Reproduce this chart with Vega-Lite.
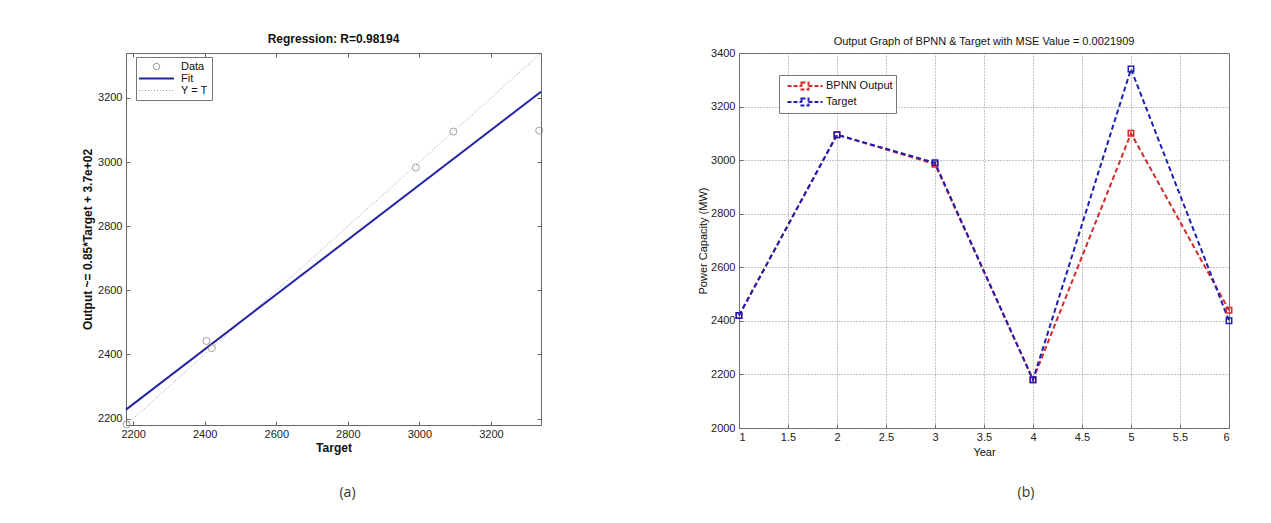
{
  "$schema": "https://vega.github.io/schema/vega-lite/v6.json",
  "background": "white",
  "padding": {"left": 81, "top": 32, "right": 5, "bottom": 5},
  "bounds": "flush",
  "columns": 2,
  "spacing": {"row": 55, "column": 198},
  "resolve": {"scale": {"color": "independent"}, "legend": {"color": "independent"}},
  "datasets": {
    "identity": [
      {"target": 2180, "output": 2180, "series": "Y = T"},
      {"target": 3340, "output": 3340, "series": "Y = T"}
    ],
    "fit": [
      {"target": 2180, "output": 2228, "series": "Fit"},
      {"target": 3340, "output": 3219, "series": "Fit"}
    ],
    "points": [
      {"target": 2420, "output": 2420, "series": "Data"},
      {"target": 3095, "output": 3095, "series": "Data"},
      {"target": 2990, "output": 2983, "series": "Data"},
      {"target": 2182, "output": 2182, "series": "Data"},
      {"target": 3335, "output": 3098, "series": "Data"},
      {"target": 2405, "output": 2442, "series": "Data"}
    ],
    "capacity": [
      {"year": 1, "value": 2420, "series": "BPNN Output"},
      {"year": 2, "value": 3095, "series": "BPNN Output"},
      {"year": 3, "value": 2985, "series": "BPNN Output"},
      {"year": 4, "value": 2180, "series": "BPNN Output"},
      {"year": 5, "value": 3100, "series": "BPNN Output"},
      {"year": 6, "value": 2440, "series": "BPNN Output"},
      {"year": 1, "value": 2420, "series": "Target"},
      {"year": 2, "value": 3095, "series": "Target"},
      {"year": 3, "value": 2990, "series": "Target"},
      {"year": 4, "value": 2180, "series": "Target"},
      {"year": 5, "value": 3340, "series": "Target"},
      {"year": 6, "value": 2400, "series": "Target"}
    ],
    "captionA": [{"caption": "(a)"}],
    "captionB": [{"caption": "(b)"}]
  },
  "concat": [
    {
      "width": 415,
      "height": 372,
      "title": {"text": "Regression: R=0.98194", "fontSize": 12, "fontWeight": "bold", "offset": 5},
      "resolve": {"axis": {"x": "independent", "y": "independent"}},
      "layer": [
        {
          "data": {"name": "identity"},
          "mark": {"type": "line", "strokeDash": [1, 2], "strokeWidth": 1},
          "encoding": {
            "x": {"field": "target", "type": "quantitative",
              "scale": {"domain": [2180, 3340], "nice": false, "zero": false},
              "axis": {"orient": "bottom", "values": [2200, 2400, 2600, 2800, 3000, 3200], "format": "d", "title": "Target", "titleFontWeight": "bold", "titleFontSize": 12, "tickSize": -4, "labelPadding": 7, "titlePadding": 3, "domain": false}},
            "y": {"field": "output", "type": "quantitative",
              "scale": {"domain": [2180, 3340], "nice": false, "zero": false},
              "axis": {"orient": "left", "values": [2200, 2400, 2600, 2800, 3000, 3200], "format": "d", "title": "Output ~= 0.85*Target + 3.7e+02", "titleFontWeight": "bold", "titleFontSize": 12, "tickSize": -4, "labelPadding": 8, "titlePadding": 3, "domain": false}},
            "color": {"field": "series", "type": "nominal",
              "scale": {"domain": ["Data", "Fit", "Y = T"], "range": ["#7d7d7d", "#2424a8", "#9a9a9a"]},
              "legend": {
                "orient": "none", "legendX": 10, "legendY": 4, "title": null,
                "fillColor": "white", "strokeColor": "#777", "padding": 4,
                "labelFontSize": 11, "labelColor": "#111",
                "symbolType": "M-2.5,0L2.5,0", "symbolSize": 196, "symbolOffset": 11,
                "labelOffset": 19, "rowPadding": 0,
                "encode": {"symbols": {"update": {
                  "shape": {"signal": "datum.value === 'Data' ? 'circle' : 'M-2.5,0L2.5,0'"},
                  "size": {"signal": "datum.value === 'Data' ? 40 : 196"},
                  "fill": {"value": "transparent"},
                  "stroke": {"signal": "datum.value === 'Fit' ? '#2424a8' : '#8a8a8a'"},
                  "strokeWidth": {"signal": "datum.value === 'Fit' ? 2 : 1"},
                  "strokeDash": {"signal": "datum.value === 'Y = T' ? [1, 2] : [1, 0]"}
                }}}
              }}
          }
        },
        {
          "data": {"name": "fit"},
          "mark": {"type": "line", "strokeWidth": 2},
          "encoding": {
            "x": {"field": "target", "type": "quantitative",
              "scale": {"domain": [2180, 3340], "nice": false, "zero": false},
              "axis": {"orient": "top", "values": [2200, 2400, 2600, 2800, 3000, 3200], "labels": false, "title": null, "tickSize": -4, "domain": false}},
            "y": {"field": "output", "type": "quantitative",
              "scale": {"domain": [2180, 3340], "nice": false, "zero": false},
              "axis": {"orient": "right", "values": [2200, 2400, 2600, 2800, 3000, 3200], "labels": false, "title": null, "tickSize": -4, "domain": false}},
            "color": {"field": "series", "type": "nominal",
              "scale": {"domain": ["Data", "Fit", "Y = T"], "range": ["#7d7d7d", "#2424a8", "#9a9a9a"]}}
          }
        },
        {
          "data": {"name": "points"},
          "mark": {"type": "point", "shape": "circle", "filled": false, "size": 50, "strokeWidth": 1},
          "encoding": {
            "x": {"field": "target", "type": "quantitative",
              "scale": {"domain": [2180, 3340], "nice": false, "zero": false}, "axis": null},
            "y": {"field": "output", "type": "quantitative",
              "scale": {"domain": [2180, 3340], "nice": false, "zero": false}, "axis": null},
            "color": {"field": "series", "type": "nominal",
              "scale": {"domain": ["Data", "Fit", "Y = T"], "range": ["#7d7d7d", "#2424a8", "#9a9a9a"]}}
          }
        }
      ]
    },
    {
      "width": 490,
      "height": 375,
      "title": {"text": "Output Graph of BPNN & Target with MSE Value = 0.0021909", "fontSize": 11, "fontWeight": "normal", "offset": 0},
      "data": {"name": "capacity"},
      "mark": {"type": "line", "strokeDash": [5, 3], "strokeWidth": 2,
        "point": {"shape": "square", "filled": false, "size": 30, "strokeWidth": 1.5}},
      "encoding": {
        "x": {"field": "year", "type": "quantitative",
          "scale": {"domain": [1, 6], "nice": false, "zero": false},
          "axis": {"values": [1, 1.5, 2, 2.5, 3, 3.5, 4, 4.5, 5, 5.5, 6], "format": "~g", "title": "Year", "titleFontWeight": "normal", "titleFontSize": 11, "grid": true, "gridDash": [1, 2], "gridColor": "#888", "tickSize": -4, "labelPadding": 7, "titlePadding": 4, "domain": false}},
        "y": {"field": "value", "type": "quantitative",
          "scale": {"domain": [2000, 3400], "nice": false, "zero": false},
          "axis": {"values": [2000, 2200, 2400, 2600, 2800, 3000, 3200, 3400], "format": "d", "title": "Power Capacity (MW)", "titleFontWeight": "normal", "titleFontSize": 11, "grid": true, "gridDash": [1, 2], "gridColor": "#888", "tickSize": -4, "labelPadding": 8, "titlePadding": 2, "domain": false}},
        "color": {"field": "series", "type": "nominal",
          "scale": {"domain": ["BPNN Output", "Target"], "range": ["#d42a2a", "#1e1eb4"]},
          "legend": {
            "orient": "none", "legendX": 40, "legendY": 22, "title": null,
            "fillColor": "white", "strokeColor": "#777", "padding": 3,
            "labelFontSize": 11, "labelColor": "#111",
            "symbolType": "M-2.5,0L-0.5,0M0.5,0L2.5,0M-0.5,-0.5L0.5,-0.5L0.5,0.5L-0.5,0.5Z",
            "symbolSize": 196, "symbolOffset": 15, "symbolStrokeWidth": 2, "symbolDash": [4, 2],
            "labelOffset": 13, "rowPadding": 0,
            "encode": {"symbols": {"update": {"fill": {"value": "transparent"}}}}
          }}
      }
    },
    {
      "width": 415,
      "height": 20,
      "view": {"stroke": null},
      "data": {"name": "captionA"},
      "mark": {"type": "text", "font": "Open Sans", "fontSize": 14, "dx": 14, "color": "#333"},
      "encoding": {"text": {"field": "caption"}}
    },
    {
      "width": 490,
      "height": 20,
      "view": {"stroke": null},
      "data": {"name": "captionB"},
      "mark": {"type": "text", "font": "Open Sans", "fontSize": 14, "dx": 42, "color": "#333"},
      "encoding": {"text": {"field": "caption"}}
    }
  ],
  "config": {
    "font": "Liberation Sans",
    "view": {"stroke": "#666", "strokeWidth": 1},
    "axis": {"labelFont": "Liberation Sans", "titleFont": "Liberation Sans", "labelColor": "#222", "titleColor": "#111", "tickColor": "#666", "labelFontSize": 11, "grid": false},
    "legend": {"labelFont": "Liberation Sans"},
    "title": {"font": "Liberation Sans", "color": "#111"}
  }
}
